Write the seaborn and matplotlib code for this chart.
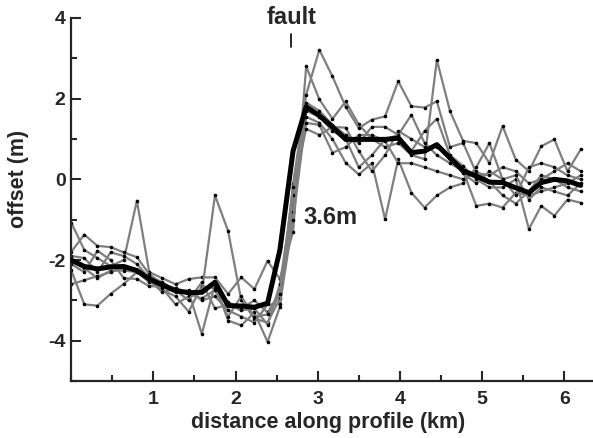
import numpy as np
import pandas as pd
import matplotlib
matplotlib.use("Agg")
import matplotlib.pyplot as plt
import seaborn as sns
from matplotlib.ticker import MultipleLocator

# ---------------- DATA ----------------
distance_km = [0.00, 0.16, 0.32, 0.48, 0.64, 0.80, 0.95, 1.11, 1.27, 1.43,
               1.59, 1.75, 1.91, 2.07, 2.23, 2.39, 2.54, 2.70, 2.86, 3.02,
               3.18, 3.34, 3.50, 3.66, 3.82, 3.98, 4.14, 4.30, 4.45, 4.61,
               4.77, 4.93, 5.09, 5.25, 5.41, 5.57, 5.72, 5.88, 6.04, 6.20]

profile_a = [-1.07, -1.75, -1.95, -2.15, -2.00, -0.53, -2.30, -2.45, -2.60, -2.47,
             -2.43, -2.43, -2.84, -2.43, -2.72, -2.02, -2.47, -1.30, 2.80, 1.98,
             1.50, 1.93, 1.36, 1.00, 0.80, 0.90, 0.60, 0.50, 2.96, 1.69,
             0.95, 0.90, 0.40, 1.32, 0.49, 0.20, 0.82, 0.99, 0.20, 0.74]
profile_b = [-1.80, -1.37, -1.65, -1.68, -1.81, -1.93, -2.35, -2.60, -2.70, -2.80,
             -3.83, -2.60, -3.50, -3.62, -3.30, -4.03, -3.16, -0.12, 2.10, 3.21,
             2.55, 1.80, 1.27, 1.48, 1.56, 2.43, 1.81, 1.78, 1.93, 0.80,
             0.90, 0.16, 0.10, 0.30, 0.20, -0.10, 0.00, 0.20, 0.40, 0.20]
profile_c = [-1.90, -1.95, -2.30, -1.81, -1.90, -2.10, -2.45, -2.74, -2.90, -3.28,
             -2.65, -2.70, -3.05, -3.20, -3.00, -3.30, -2.80, -0.60, 1.90, 1.70,
             1.35, 1.10, 0.90, 1.30, 1.30, 1.10, 0.70, 1.20, 1.50, 0.60,
             0.33, 0.00, -0.20, -0.20, 0.00, -1.23, -0.66, -0.90, -0.50, -0.58]
profile_d = [-2.00, -2.20, -2.45, -2.26, -2.26, -2.30, -2.55, -2.70, -3.10, -2.90,
             -2.80, -0.40, -1.28, -3.00, -3.45, -3.55, -2.95, -0.80, 1.70, 1.55,
             1.20, 1.00, 0.30, 0.60, 0.99, 1.10, 1.60, 0.90, 0.60, 0.40,
             0.20, -0.66, -0.60, -0.70, -0.33, -0.40, -0.30, -0.20, -0.10, 0.10]
profile_e = [-2.10, -2.30, -1.77, -2.00, -2.45, -2.47, -2.65, -2.65, -2.80, -2.75,
             -3.00, -2.90, -3.25, -3.40, -3.55, -3.10, -3.10, -1.00, 1.55, 1.40,
             1.00, 0.41, 0.12, 0.40, -0.99, 0.50, -0.33, -0.70, -0.40, -0.20,
             -0.10, 0.30, 0.90, 0.00, -0.40, 0.30, 0.40, 0.30, 0.10, 0.00]
profile_f = [-2.25, -3.10, -3.13, -2.84, -2.59, -2.30, -2.40, -2.55, -2.75, -3.00,
             -2.55, -3.20, -3.10, -3.25, -3.20, -3.60, -2.60, -0.40, 1.40, 1.35,
             0.66, 0.80, 1.10, 1.10, 0.95, 0.40, 0.40, 0.30, 0.20, 0.10,
             0.00, 0.20, -0.05, -0.40, -0.60, -0.30, 0.10, 0.00, -0.20, -0.30]
profile_g = [-2.60, -2.50, -2.40, -2.30, -2.20, -2.25, -2.50, -2.80, -2.70, -2.85,
             -2.95, -2.75, -3.40, -2.90, -3.40, -3.35, -2.85, -0.20, 1.25, 1.10,
             1.30, 1.28, 0.70, 0.20, 0.60, 1.20, 1.00, 0.80, 0.80, 0.50,
             0.15, -0.10, 0.20, 0.00, 0.10, -0.50, -0.20, -0.30, -0.40, -0.10]

stacked_mean = [-2.00, -2.16, -2.22, -2.17, -2.16, -2.26, -2.47, -2.62, -2.76, -2.81,
                -2.80, -2.55, -3.13, -3.14, -3.17, -3.07, -1.75, 0.70, 1.80, 1.58,
                1.30, 0.99, 0.99, 0.99, 0.99, 1.02, 0.66, 0.70, 0.86, 0.53,
                0.21, 0.08, -0.07, -0.08, -0.21, -0.33, -0.08, 0.00, -0.04, -0.15]

profiles = {"a": profile_a, "b": profile_b, "c": profile_c, "d": profile_d,
            "e": profile_e, "f": profile_f, "g": profile_g}

# ---------------- STYLE ----------------
sns.set_style("ticks")
plt.rcParams["font.family"] = ["Liberation Sans", "DejaVu Sans"]
plt.rcParams["font.weight"] = "bold"
plt.rcParams["axes.labelweight"] = "bold"
plt.rcParams["axes.unicode_minus"] = False

fig = plt.figure(figsize=(5.93, 4.38), dpi=100)
ax = fig.add_axes([0.12, 0.13, 0.88, 0.829])

for name, vals in profiles.items():
    sns.lineplot(x=distance_km, y=vals, ax=ax, color="#7f7f7f", lw=1.6,
                 marker="o", markersize=2.6, markerfacecolor="black",
                 markeredgecolor="black", markeredgewidth=0, zorder=2)

sns.lineplot(x=distance_km, y=stacked_mean, ax=ax, color="black", lw=3.6, zorder=3)

ax.set_xlim(0, 6.35)
ax.set_ylim(-5, 4)
ax.xaxis.set_major_locator(MultipleLocator(1))
ax.xaxis.set_minor_locator(MultipleLocator(0.5))
ax.yaxis.set_major_locator(MultipleLocator(2))
ax.yaxis.set_minor_locator(MultipleLocator(1))
ax.set_xticks([1, 2, 3, 4, 5, 6])
ax.tick_params(which="major", direction="in", length=7, width=1.5, labelsize=14)
ax.tick_params(axis="x", which="major", pad=7)
ax.tick_params(axis="y", which="major", pad=4)
ax.tick_params(which="minor", direction="in", length=4, width=1.5)
for lab in ax.get_xticklabels() + ax.get_yticklabels():
    lab.set_fontweight("bold")
sns.despine(ax=ax)
ax.spines["left"].set_linewidth(1.6)
ax.spines["bottom"].set_linewidth(1.6)

ax.set_xlabel("distance along profile (km)", fontsize=15.5, fontweight="bold")
ax.set_ylabel("offset (m)", fontsize=15.5, fontweight="bold")
ax.xaxis.set_label_coords(0.492, -0.085)
ax.yaxis.set_label_coords(-0.08, 0.556)

ax.text(2.68, 3.72, "fault", ha="center", va="bottom", fontsize=17, fontweight="bold")
ax.plot([2.68, 2.68], [3.28, 3.6], color="black", lw=1.2)
ax.text(2.83, -0.94, "3.6m", ha="left", va="center", fontsize=17, fontweight="bold")

fig.savefig("out.png", dpi=100)
